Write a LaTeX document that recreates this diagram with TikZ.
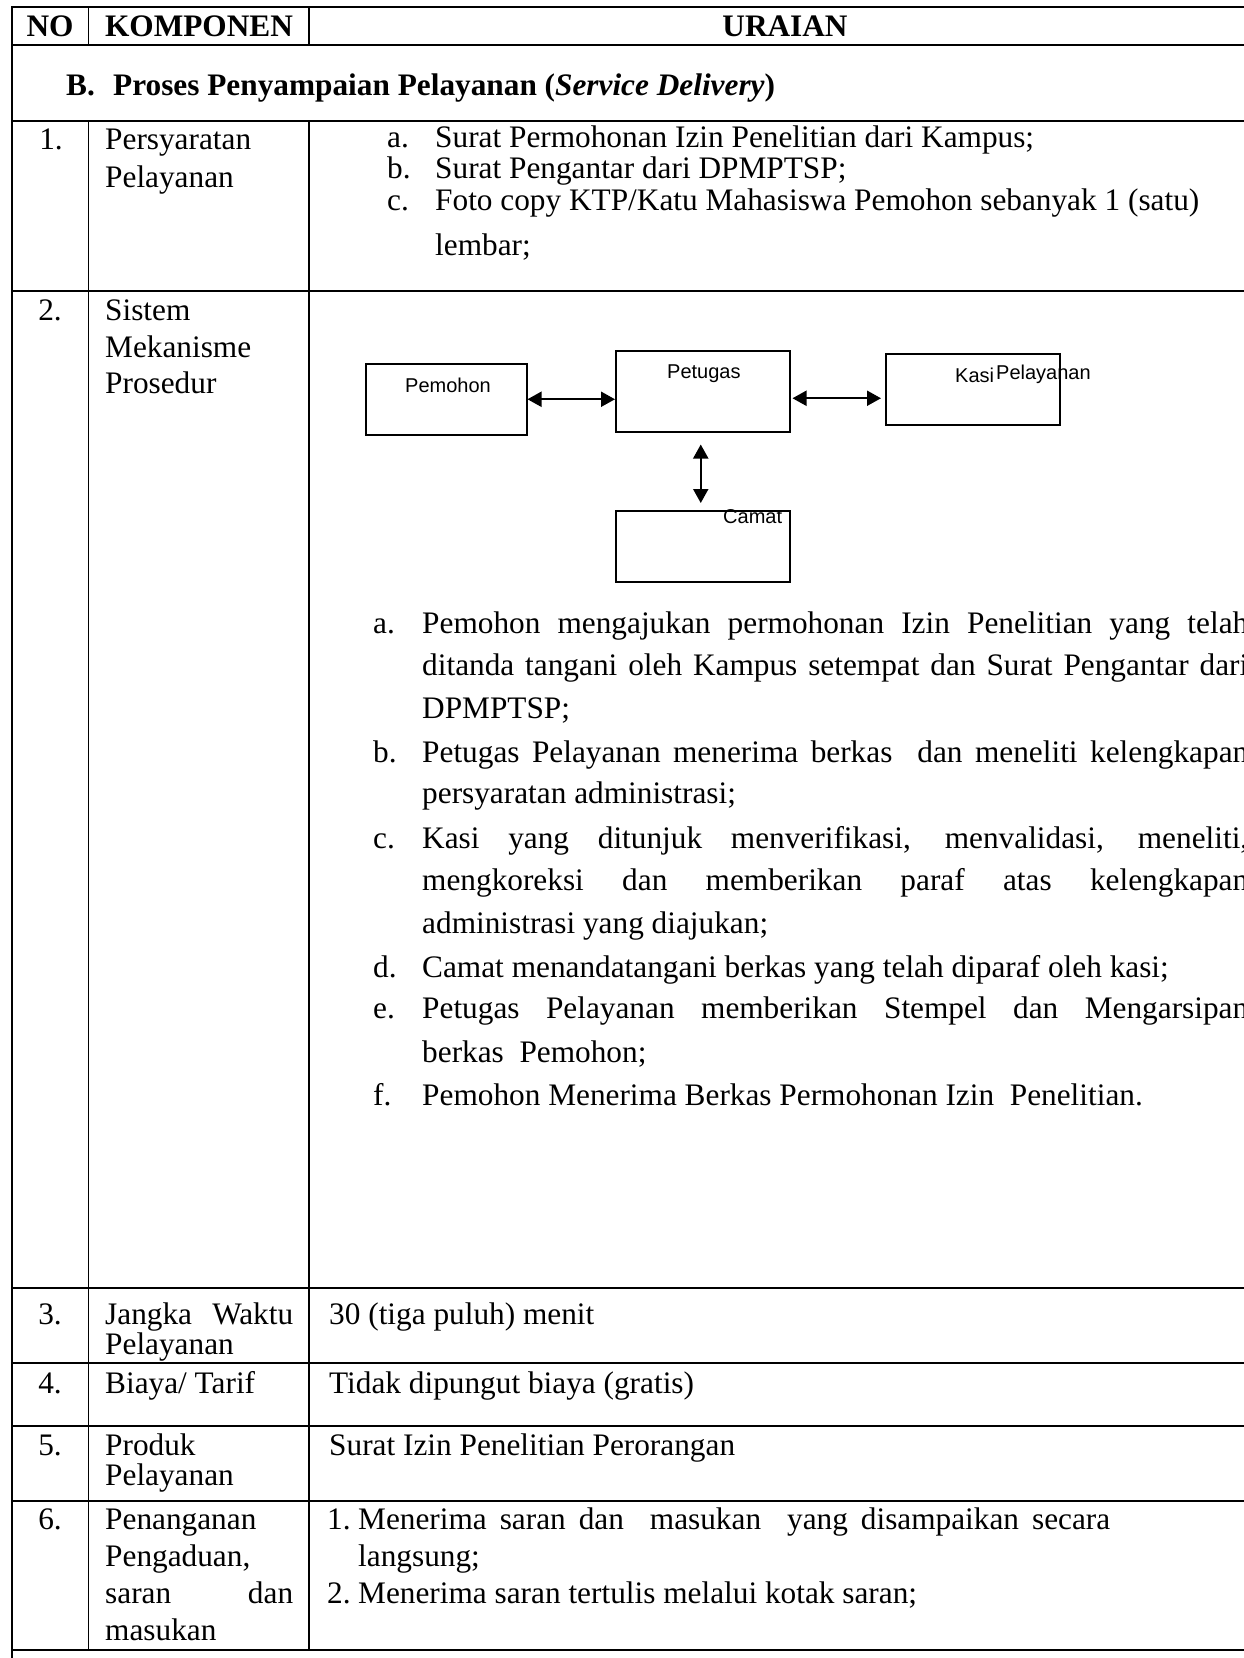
\documentclass[tikz,border=0pt]{standalone}
\usepackage{fontspec}
\setmainfont{Liberation Serif}
\newfontfamily\diagfont{Liberation Sans}
\usetikzlibrary{arrows.meta}
\newcommand\tf{\fontsize{31.3pt}{36pt}\selectfont}
\newcommand\lf{\diagfont\fontsize{20pt}{24pt}\selectfont}
\begin{document}
\begin{tikzpicture}[x=1pt,y=-1pt,
  hline/.style={line width=2pt},
  vline/.style={line width=1.4pt},
  txt/.style={anchor=base west,inner sep=0pt,font=\tf},
  ctxt/.style={anchor=base,inner sep=0pt,font=\tf},
  hd/.style={anchor=base,inner sep=0pt,font=\tf\bfseries},
  box/.style={draw,line width=1.5pt,inner sep=0pt,anchor=north west},
  lbl/.style={anchor=base west,inner sep=0pt,font=\lf},
  biarrow/.style={line width=2pt,{Triangle[length=14pt,width=15pt]}-{Triangle[length=14pt,width=15pt]}}
]
\useasboundingbox (0,0) rectangle (1244,1658);
\fill[white] (0,0) rectangle (1244,1658);

% ---- table rules ----
\foreach \yy in {7.3,45,120.7,290.7,1288,1363,1426,1501,1650}
  \draw[hline] (11.3,\yy) -- (1260,\yy);
\draw[vline] (12,6.3) -- (12,1670);
\draw[vline] (88.7,7.3) -- (88.7,45);
\draw[vline] (309,7.3) -- (309,45);
\draw[vline] (88.7,120.7) -- (88.7,1650);
\draw[vline] (309,120.7) -- (309,1650);

% ---- header ----
\node[hd] (hno) at (50,36) {NO};
\node[hd] (hkomp) at (199,36) {KOMPONEN};
\node[hd] (hura) at (785,36) {URAIAN};

% ---- section B ----
\node[txt,font=\tf\bfseries] (secb) at (66,95) {B.};
\node[txt,font=\tf\bfseries] (sect) at (113,95) {Proses Penyampaian Pelayanan (\textit{Service Delivery})};

% ---- row 1 ----
\node[ctxt] (n1) at (51,149) {1.};
\node[txt] (k1a) at (105,149) {Persyaratan};
\node[txt] (k1b) at (105,187) {Pelayanan};
\node[txt] (r1la) at (387,147) {a.};
\node[txt] (r1a) at (435,147) {Surat Permohonan Izin Penelitian dari Kampus;};
\node[txt] (r1lb) at (387,178) {b.};
\node[txt] (r1b) at (435,178) {Surat Pengantar dari DPMPTSP;};
\node[txt] (r1lc) at (387,210) {c.};
\node[txt] (r1c) at (435,210) {Foto copy KTP/Katu Mahasiswa Pemohon sebanyak 1 (satu)};
\node[txt] (r1d) at (435,255) {lembar;};

% ---- row 2 ----
\node[ctxt] (n2) at (50,320) {2.};
\node[txt] (k2a) at (105,320) {Sistem};
\node[txt] (k2b) at (105,357) {Mekanisme};
\node[txt] (k2c) at (105,393) {Prosedur};

% diagram
\node[box,minimum width=161pt,minimum height=71pt] (pemohon) at (365,363) {};
\node[box,minimum width=174pt,minimum height=81pt] (petugas) at (615,350) {};
\node[box,minimum width=174pt,minimum height=71pt] (kasi) at (885,353) {};
\node[box,minimum width=174pt,minimum height=71pt] (camat) at (615,510) {};
\node[lbl] (lpem) at (405,392) {Pemohon};
\node[lbl] (lpet) at (667,378) {Petugas};
\node[lbl] (lkasi) at (955,382) {Kasi};
\node[lbl] (lpel) at (996,379) {Pelayanan};
\node[lbl] (lcam) at (723,523) {Camat};
\draw[biarrow] (pemohon.east) -- (pemohon.east -| petugas.west);
\coordinate (a2s) at ([yshift=-7pt,xshift=2pt]petugas.east);
\draw[biarrow] (a2s) -- ([xshift=-4pt]a2s -| kasi.west);
\coordinate (v1) at ([yshift=-12pt,xshift=-2pt]petugas.south);
\draw[biarrow] (v1) -- ([yshift=7pt]v1 |- camat.north);

% procedure text
\newcommand\jl[1]{\makebox[826pt][s]{#1}}
\node[txt] (pa) at (373,633) {a.};
\node[txt] (pa1) at (422,633) {\jl{Pemohon mengajukan permohonan Izin Penelitian yang telah}};
\node[txt] (pa2) at (422,675) {\jl{ditanda tangani oleh Kampus setempat dan Surat Pengantar dari}};
\node[txt] (pa3) at (422,718) {DPMPTSP;};
\node[txt] (pb) at (373,762) {b.};
\node[txt] (pb1) at (422,762) {\jl{Petugas Pelayanan menerima berkas\ \ dan meneliti kelengkapan}};
\node[txt] (pb2) at (422,803) {persyaratan administrasi;};
\node[txt] (pc) at (373,848) {c.};
\node[txt] (pc1) at (422,848) {\jl{Kasi yang ditunjuk menverifikasi, menvalidasi, meneliti,}};
\node[txt] (pc2) at (422,890) {\jl{mengkoreksi dan memberikan paraf atas kelengkapan}};
\node[txt] (pc3) at (422,933) {administrasi yang diajukan;};
\node[txt] (pd) at (373,977) {d.};
\node[txt] (pd1) at (422,977) {Camat menandatangani berkas yang telah diparaf oleh kasi;};
\node[txt] (pe) at (373,1018) {e.};
\node[txt] (pe1) at (422,1018) {\jl{Petugas Pelayanan memberikan Stempel dan Mengarsipan}};
\node[txt] (pe2) at (422,1062) {berkas\ \ Pemohon;};
\node[txt] (pf) at (373,1105) {f.};
\node[txt] (pf1) at (422,1105) {Pemohon Menerima Berkas Permohonan Izin\ \ Penelitian.};

% ---- row 3 ----
\node[ctxt] (n3) at (50,1324) {3.};
\node[txt] (k3a) at (105,1324) {\makebox[188pt][s]{Jangka Waktu}};
\node[txt] (k3b) at (105,1354) {Pelayanan};
\node[txt] (u3) at (329,1324) {30 (tiga puluh) menit};

% ---- row 4 ----
\node[ctxt] (n4) at (50,1393) {4.};
\node[txt] (k4) at (105,1393) {Biaya/ Tarif};
\node[txt] (u4) at (329,1393) {Tidak dipungut biaya (gratis)};

% ---- row 5 ----
\node[ctxt] (n5) at (50,1455) {5.};
\node[txt] (k5a) at (105,1455) {Produk};
\node[txt] (k5b) at (105,1485) {Pelayanan};
\node[txt] (u5) at (329,1455) {Surat Izin Penelitian Perorangan};

% ---- row 6 ----
\node[ctxt] (n6) at (50,1529) {6.};
\node[txt] (k6a) at (105,1529) {Penanganan};
\node[txt] (k6b) at (105,1566) {Pengaduan,};
\node[txt] (k6c) at (105,1603) {\makebox[188pt][s]{saran dan}};
\node[txt] (k6d) at (105,1640) {masukan};
\node[txt] (u6a) at (327,1529) {1.};
\node[txt] (u6b) at (358,1529) {\makebox[752pt][s]{Menerima saran dan\ \ masukan\ \ yang disampaikan secara}};
\node[txt] (u6c) at (358,1566) {langsung;};
\node[txt] (u6d) at (327,1603) {2.};
\node[txt] (u6e) at (358,1603) {Menerima saran tertulis melalui kotak saran;};
\end{tikzpicture}
\end{document}
